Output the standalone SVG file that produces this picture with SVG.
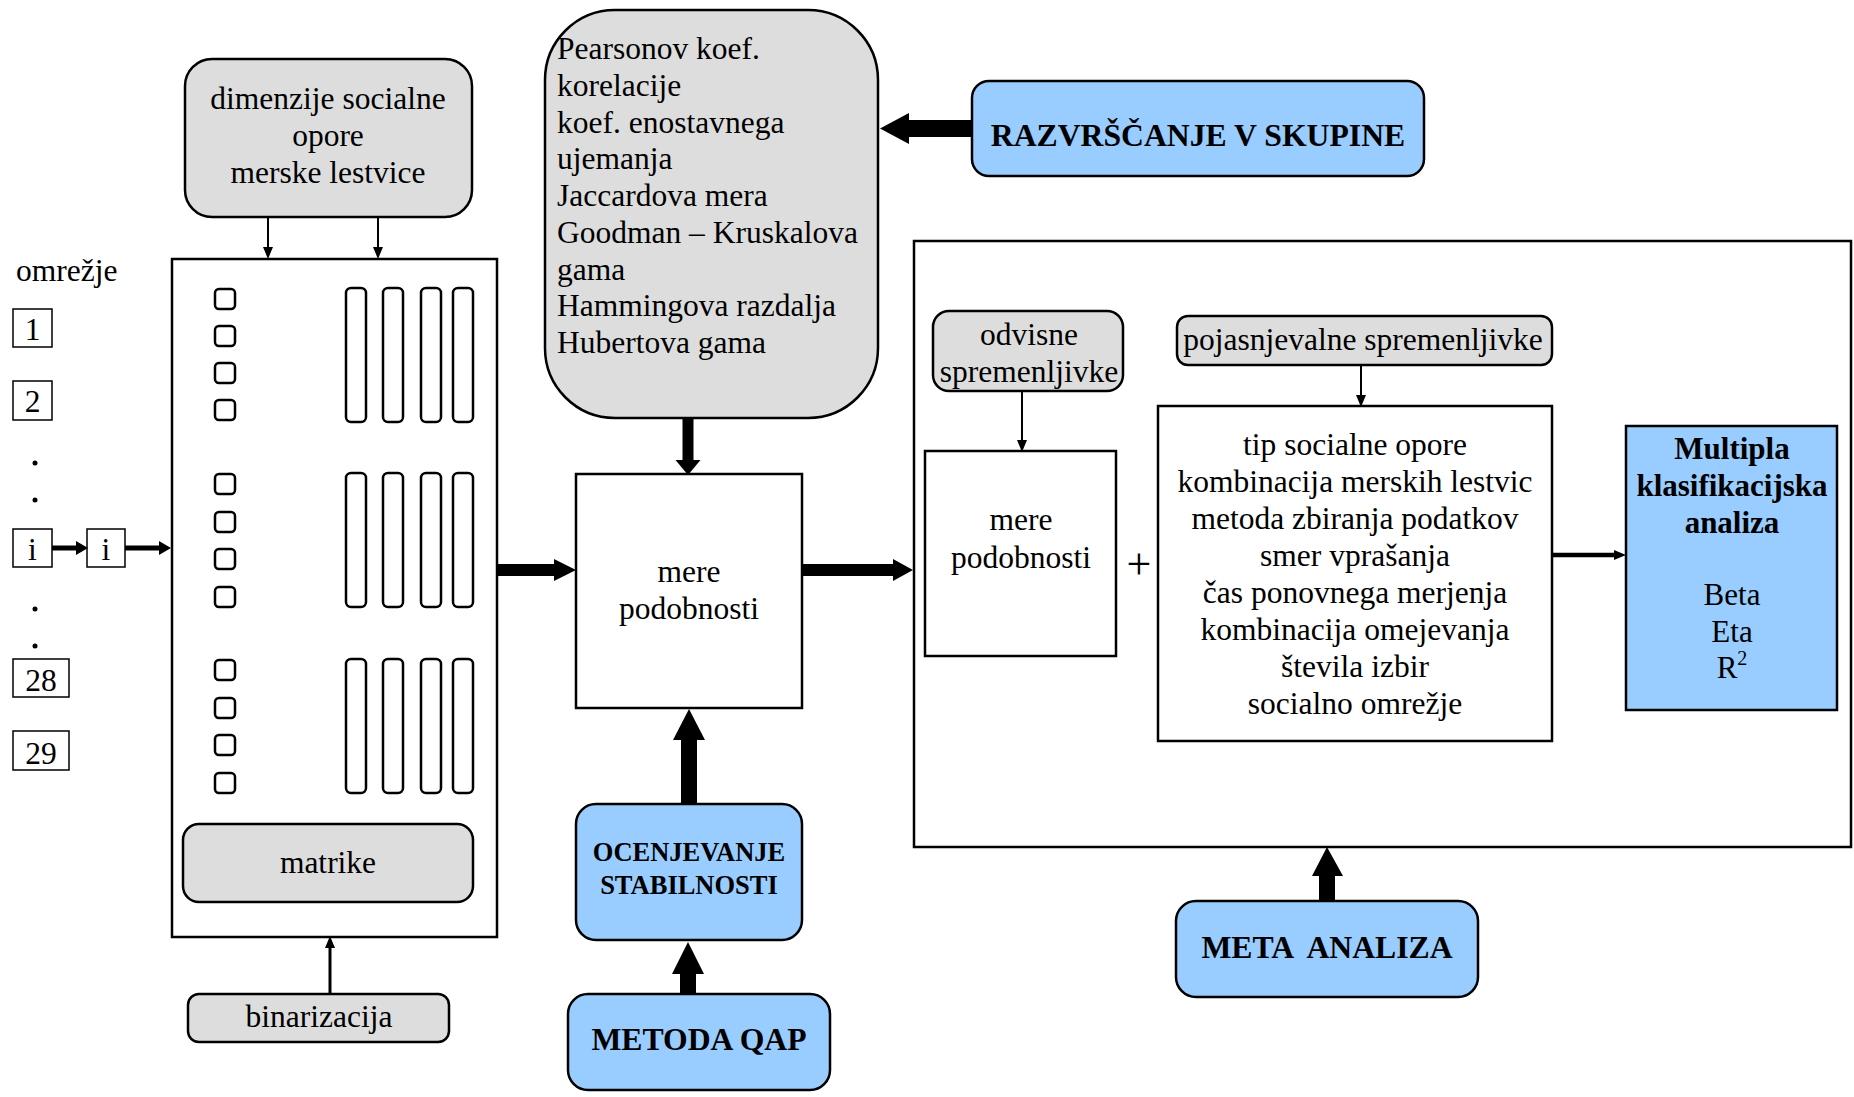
<svg xmlns="http://www.w3.org/2000/svg" width="1854" height="1097" viewBox="0 0 1854 1097">
<defs>
<style>
text{font-family:"Liberation Serif","Times New Roman",serif;fill:#000}
.t{font-size:31.5px}
.tc{font-size:31.5px;text-anchor:middle}
.tb{font-size:31.7px;font-weight:bold;text-anchor:middle}
.t30{font-size:31.5px;text-anchor:middle}
.gray{fill:#dddddd;stroke:#000;stroke-width:2.5}
.blue{fill:#99ccff;stroke:#000;stroke-width:2.5}
.white{fill:#fff;stroke:#000;stroke-width:2.5}
.nbox{fill:#fff;stroke:#000;stroke-width:1.5}
.sq{fill:#fff;stroke:#000;stroke-width:2.5}
.blk{fill:#000;stroke:none}
.ln{stroke:#000;fill:none}
</style>
<marker id="hs" viewBox="0 0 12 10" markerWidth="12" markerHeight="10" markerUnits="userSpaceOnUse" refX="0" refY="5" orient="auto"><path d="M0,0 L12,5 L0,10 z" fill="#000"/></marker>
<marker id="hm" viewBox="0 0 12 14" markerWidth="12" markerHeight="14" markerUnits="userSpaceOnUse" refX="0" refY="7" orient="auto"><path d="M0,0 L12,7 L0,14 z" fill="#000"/></marker>
</defs>
<rect width="1854" height="1097" fill="#fff"/>

<g id="dimenzije">
<rect class="gray" x="185" y="59" width="287" height="158" rx="27"/>
<text class="tc" x="328" y="109">dimenzije socialne</text>
<text class="tc" x="328" y="146">opore</text>
<text class="tc" x="328" y="183">merske lestvice</text>
</g>

<g id="omrezje">
<text class="t" x="16" y="281">omrežje</text>
<rect class="nbox" x="13" y="309" width="39" height="38"/><text class="tc" x="32.5" y="340">1</text>
<rect class="nbox" x="13" y="381" width="39" height="39"/><text class="tc" x="32.5" y="412">2</text>
<circle cx="35" cy="463" r="2.5"/><circle cx="35" cy="500" r="2.5"/>
<rect class="nbox" x="13" y="529" width="39" height="38"/><text class="tc" x="32.5" y="560">i</text>
<rect class="nbox" x="87" y="529" width="38" height="38"/><text class="tc" x="106" y="560">i</text>
<circle cx="35" cy="609" r="2.5"/><circle cx="35" cy="646" r="2.5"/>
<rect class="nbox" x="13" y="659" width="56" height="38"/><text class="tc" x="41" y="691">28</text>
<rect class="nbox" x="13" y="731" width="56" height="39"/><text class="tc" x="41" y="764">29</text>
</g>

<g id="matrika">
<rect class="white" x="172" y="259" width="325" height="678" stroke-width="3"/>
<g id="g1">
<rect class="sq" x="215" y="289" width="20" height="20" rx="4"/>
<rect class="sq" x="215" y="326" width="20" height="20" rx="4"/>
<rect class="sq" x="215" y="363" width="20" height="20" rx="4"/>
<rect class="sq" x="215" y="400" width="20" height="20" rx="4"/>
<rect class="sq" x="346" y="288" width="20" height="134" rx="5"/>
<rect class="sq" x="383" y="288" width="20" height="134" rx="5"/>
<rect class="sq" x="421" y="288" width="20" height="134" rx="5"/>
<rect class="sq" x="453" y="288" width="20" height="134" rx="5"/>
</g>
<g id="g2">
<rect class="sq" x="215" y="474" width="20" height="20" rx="4"/>
<rect class="sq" x="215" y="512" width="20" height="20" rx="4"/>
<rect class="sq" x="215" y="549" width="20" height="20" rx="4"/>
<rect class="sq" x="215" y="587" width="20" height="20" rx="4"/>
<rect class="sq" x="346" y="473" width="20" height="134" rx="5"/>
<rect class="sq" x="383" y="473" width="20" height="134" rx="5" stroke-width="3.2"/>
<rect class="sq" x="421" y="473" width="20" height="134" rx="5"/>
<rect class="sq" x="453" y="473" width="20" height="134" rx="5"/>
</g>
<g id="g3">
<rect class="sq" x="215" y="660" width="20" height="20" rx="4"/>
<rect class="sq" x="215" y="698" width="20" height="20" rx="4"/>
<rect class="sq" x="215" y="735" width="20" height="20" rx="4"/>
<rect class="sq" x="215" y="773" width="20" height="20" rx="4"/>
<rect class="sq" x="346" y="659" width="20" height="134" rx="5"/>
<rect class="sq" x="383" y="659" width="20" height="134" rx="5" stroke-width="3.2"/>
<rect class="sq" x="421" y="659" width="20" height="134" rx="5"/>
<rect class="sq" x="453" y="659" width="20" height="134" rx="5"/>
</g>
<g id="matrike">
<rect class="gray" x="183" y="824" width="290" height="78" rx="16" stroke-width="2"/>
<text class="tc" x="328" y="873">matrike</text>
</g>
</g>

<g id="binarizacija">
<rect class="gray" x="188" y="994" width="261" height="48" rx="11" stroke-width="2"/>
<text class="tc" x="319" y="1027">binarizacija</text>
</g>

<g id="mere-list">
<rect class="gray" x="545" y="10" width="333" height="408" rx="70"/>
<text class="t" x="557" y="59">Pearsonov koef.</text>
<text class="t" x="557" y="96">korelacije</text>
<text class="t" x="557" y="133">koef. enostavnega</text>
<text class="t" x="557" y="169">ujemanja</text>
<text class="t" x="557" y="206">Jaccardova mera</text>
<text class="t" x="557" y="243">Goodman – Kruskalova</text>
<text class="t" x="557" y="280">gama</text>
<text class="t" x="557" y="316">Hammingova razdalja</text>
<text class="t" x="557" y="353">Hubertova gama</text>
</g>

<g id="razvrscanje">
<rect class="blue" x="972" y="81" width="452" height="95" rx="17"/>
<text class="tb" x="1198" y="146">RAZVRŠČANJE V SKUPINE</text>
</g>

<g id="mere-podobnosti">
<rect class="white" x="576" y="474" width="226" height="234"/>
<text class="tc" x="689" y="582">mere</text>
<text class="tc" x="689" y="619">podobnosti</text>
</g>

<g id="ocenjevanje">
<rect class="blue" x="576" y="804" width="226" height="136" rx="20" stroke-width="2"/>
<text class="tb" x="689" y="861" style="font-size:26.5px">OCENJEVANJE</text>
<text class="tb" x="689" y="894" style="font-size:26.5px">STABILNOSTI</text>
</g>

<g id="metoda-qap">
<rect class="blue" x="568" y="994" width="262" height="96" rx="20" stroke-width="2"/>
<text class="tb" x="699" y="1050">METODA QAP</text>
</g>

<g id="analiza">
<rect class="white" x="914" y="241" width="937" height="606"/>
<g id="odvisne">
<rect class="gray" x="933" y="311" width="190" height="80" rx="16" stroke-width="2"/>
<text class="tc" x="1029" y="345">odvisne</text>
<text class="tc" x="1029" y="382">spremenljivke</text>
</g>
<g id="mere-podobnosti-2">
<rect class="white" x="925" y="451" width="191" height="205"/>
<text class="tc" x="1021" y="530">mere</text>
<text class="tc" x="1021" y="568">podobnosti</text>
</g>
<text class="tc" x="1139" y="579" style="font-size:44px">+</text>
<g id="pojasnjevalne">
<rect class="gray" x="1177" y="316" width="375" height="49" rx="11" stroke-width="2"/>
<text class="tc" x="1363" y="350">pojasnjevalne spremenljivke</text>
</g>
<g id="spremenljivke">
<rect class="white" x="1158" y="406" width="394" height="335"/>
<text class="t30" x="1355" y="455">tip socialne opore</text>
<text class="t30" x="1355" y="492">kombinacija merskih lestvic</text>
<text class="t30" x="1355" y="529">metoda zbiranja podatkov</text>
<text class="t30" x="1355" y="566">smer vprašanja</text>
<text class="t30" x="1355" y="603">čas ponovnega merjenja</text>
<text class="t30" x="1355" y="640">kombinacija omejevanja</text>
<text class="t30" x="1355" y="677">števila izbir</text>
<text class="t30" x="1355" y="714">socialno omrežje</text>
</g>
<g id="multipla">
<rect class="blue" x="1626" y="426" width="211" height="284" rx="0" stroke-width="3"/>
<text class="tb" x="1732" y="459" style="font-size:31px">Multipla</text>
<text class="tb" x="1732" y="496" style="font-size:31px">klasifikacijska</text>
<text class="tb" x="1732" y="533" style="font-size:31px">analiza</text>
<text class="tc" x="1732" y="605" style="font-size:31px">Beta</text>
<text class="tc" x="1732" y="642" style="font-size:31px">Eta</text>
<text class="tc" x="1732" y="678" style="font-size:31px">R<tspan dy="-13" style="font-size:20px">2</tspan></text>
</g>
</g>

<g id="meta-analiza">
<rect class="blue" x="1176" y="901" width="302" height="96" rx="20"/>
<text class="tb" x="1327" y="958" xml:space="preserve">META  ANALIZA</text>
</g>

<g id="connectors">
<line class="ln" x1="268" y1="217" x2="268" y2="247" stroke-width="2" marker-end="url(#hs)"/>
<line class="ln" x1="378" y1="217" x2="378" y2="247" stroke-width="2" marker-end="url(#hs)"/>
<line class="ln" x1="52" y1="548" x2="76" y2="548" stroke-width="5" marker-end="url(#hm)"/>
<line class="ln" x1="125" y1="548" x2="159" y2="548" stroke-width="5" marker-end="url(#hm)"/>
<line class="ln" x1="330" y1="994" x2="330" y2="948" stroke-width="3" marker-end="url(#hs)"/>
<line class="ln" x1="1022" y1="391" x2="1022" y2="440" stroke-width="2" marker-end="url(#hs)"/>
<line class="ln" x1="1361" y1="365" x2="1361" y2="395" stroke-width="2" marker-end="url(#hs)"/>
<line class="ln" x1="1552" y1="555" x2="1614" y2="555" stroke-width="4.5" marker-end="url(#hs)"/>
<polygon class="blk" points="682.5,418 693.5,418 693.5,460 700.5,460 688,475 675.5,460 682.5,460"/>
<polygon class="blk" points="972,120 909,120 909,113 880,128.5 909,144 909,137 972,137"/>
<polygon class="blk" points="497,564 554,564 554,559 576,570 554,581 554,576 497,576"/>
<polygon class="blk" points="802,564 893,564 893,559 913,570 893,581 893,576 802,576"/>
<polygon class="blk" points="681,804 681,740 673,740 689,709 705,740 697,740 697,804"/>
<polygon class="blk" points="680,994 680,974 672,974 688,942 704,974 696,974 696,994"/>
<polygon class="blk" points="1319,901 1319,876 1312,876 1327,847 1343,876 1335,876 1335,901"/>
</g>
</svg>
